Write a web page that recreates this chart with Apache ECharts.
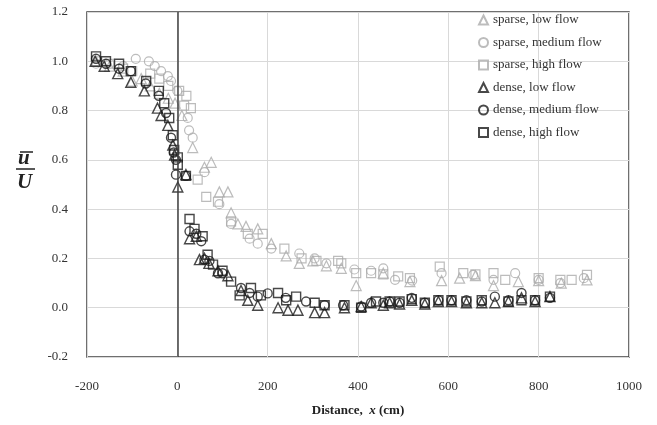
<!DOCTYPE html>
<html>
<head>
<meta charset="utf-8">
<script src="https://cdn.jsdelivr.net/npm/echarts@6/dist/echarts.min.js"></script>
<style>
html,body{margin:0;padding:0;background:#fff;}
#chart{width:657px;height:425px;}
</style>
</head>
<body>
<div id="chart"></div>
<script>
// ---- data (x in cm, u/U) ----
var seriesNames = ['sparse, low flow','sparse, medium flow','sparse, high flow','dense, low flow','dense, medium flow','dense, high flow'];
var xTicks = [-200, 0, 200, 400, 600, 800, 1000];
var yTicks = [-0.2, 0.0, 0.2, 0.4, 0.6, 0.8, 1.0, 1.2];

var sparseLow = [[-180,1.00],[-150,0.98],[-120,0.96],[-100,0.92],[-80,0.93],[-60,0.90],[-40,0.87],[-20,0.85],[-5,0.83],[10,0.78],[34,0.65],[60,0.57],[75,0.59],[93,0.47],[112,0.47],[119,0.385],[134,0.34],[152,0.33],[178,0.32],[208,0.26],[241,0.21],[270,0.18],[300,0.19],[330,0.17],[363,0.16],[396,0.09],[456,0.14],[515,0.106],[585,0.11],[625,0.12],[660,0.13],[700,0.09],[755,0.106],[800,0.11],[850,0.10],[907,0.113]];
var sparseMedium = [[-180,0.99],[-150,0.99],[-120,0.98],[-92,1.01],[-63,1.00],[-50,0.98],[-36,0.96],[-21,0.94],[-14,0.92],[0,0.88],[23,0.77],[26,0.72],[34,0.69],[60,0.55],[93,0.42],[119,0.34],[160,0.28],[178,0.26],[208,0.24],[270,0.22],[304,0.20],[330,0.18],[392,0.155],[429,0.15],[456,0.16],[482,0.113],[520,0.11],[585,0.14],[655,0.133],[700,0.113],[748,0.14],[800,0.113],[848,0.10],[900,0.12]];
var sparseHigh = [[-180,1.00],[-150,0.99],[-120,0.97],[-100,0.96],[-60,0.95],[-40,0.93],[-20,0.90],[4,0.88],[15,0.82],[20,0.86],[30,0.81],[45,0.52],[64,0.45],[90,0.43],[119,0.35],[156,0.30],[189,0.30],[237,0.24],[275,0.20],[308,0.19],[356,0.19],[363,0.18],[396,0.14],[429,0.14],[456,0.135],[489,0.127],[515,0.12],[581,0.167],[633,0.14],[660,0.135],[700,0.14],[726,0.113],[800,0.12],[848,0.113],[873,0.113],[907,0.133]];
var denseLow = [[-182,1.00],[-162,0.98],[-132,0.95],[-103,0.915],[-73,0.88],[-44,0.81],[-36,0.78],[-21,0.74],[-10,0.66],[-6,0.62],[1,0.49],[19,0.54],[27,0.28],[42,0.29],[49,0.195],[60,0.20],[70,0.18],[90,0.15],[112,0.13],[141,0.07],[156,0.03],[178,0.01],[223,0.0],[245,-0.01],[267,-0.01],[304,-0.02],[326,-0.02],[370,0.0],[407,0.005],[429,0.02],[456,0.01],[470,0.02],[492,0.015],[519,0.03],[548,0.015],[578,0.025],[607,0.025],[640,0.02],[674,0.02],[703,0.02],[733,0.025],[762,0.04],[792,0.025],[825,0.045]];
var denseMedium = [[-180,1.01],[-158,0.99],[-129,0.97],[-103,0.96],[-70,0.91],[-41,0.86],[-25,0.79],[-14,0.69],[-8,0.63],[-3,0.60],[-3,0.54],[19,0.535],[27,0.31],[42,0.30],[53,0.27],[60,0.195],[71,0.19],[90,0.14],[100,0.14],[141,0.08],[160,0.06],[178,0.045],[200,0.058],[240,0.04],[285,0.025],[326,0.01],[367,0.01],[407,0.005],[429,0.02],[456,0.02],[470,0.025],[492,0.02],[519,0.04],[548,0.02],[578,0.03],[607,0.03],[640,0.03],[674,0.025],[703,0.045],[733,0.03],[762,0.06],[792,0.03],[825,0.04]];
var denseHigh = [[-180,1.02],[-158,1.00],[-129,0.99],[-103,0.96],[-69,0.92],[-41,0.88],[-29,0.83],[-18,0.77],[-10,0.70],[-7,0.64],[1,0.61],[1,0.58],[19,0.535],[27,0.36],[38,0.32],[56,0.29],[67,0.215],[79,0.175],[100,0.15],[119,0.106],[138,0.05],[163,0.08],[185,0.05],[223,0.06],[241,0.03],[263,0.045],[304,0.02],[326,0.01],[370,0.01],[407,0.0],[440,0.025],[470,0.025],[492,0.025],[519,0.035],[548,0.02],[578,0.03],[607,0.03],[640,0.025],[674,0.03],[733,0.025],[762,0.03],[792,0.03],[825,0.045]];

var FONT = '"Liberation Serif", "Times New Roman", serif';
var GRAY = '#ababab';
var DARK = '#1a1a1a';

function mk(name, data, symbol, color, bw, size) {
  return {
    name: name, type: 'scatter', data: data, symbol: symbol, symbolSize: size,
    itemStyle: { color: 'rgba(255,255,255,0)', borderColor: color, borderWidth: bw },
    emphasis: { disabled: true }
  };
}

var series = [
  mk(seriesNames[0], sparseLow, 'triangle', GRAY, 1.2, 10),
  mk(seriesNames[1], sparseMedium, 'circle', GRAY, 1.2, 9),
  mk(seriesNames[2], sparseHigh, 'rect', GRAY, 1.2, 9),
  mk(seriesNames[3], denseLow, 'triangle', DARK, 1.4, 10),
  mk(seriesNames[4], denseMedium, 'circle', DARK, 1.4, 9),
  mk(seriesNames[5], denseHigh, 'rect', DARK, 1.4, 9)
];
series[0].markLine = {
  silent: true, symbol: 'none', label: { show: false },
  lineStyle: { color: '#404040', width: 1.5, type: 'solid' },
  data: [{ xAxis: 0 }]
};

var chart = echarts.init(document.getElementById('chart'), null, { renderer: 'canvas' });
chart.setOption({
  animation: false,
  backgroundColor: '#fff',
  grid: { left: 87, right: 28, top: 12, bottom: 68, show: true, borderColor: '#404040', borderWidth: 1.5, backgroundColor: 'transparent' },
  legend: {
    data: seriesNames,
    orient: 'vertical',
    left: 473, top: 8,
    itemWidth: 9, itemHeight: 9,
    itemGap: 8.5,
    textStyle: { fontFamily: FONT, fontSize: 13, color: '#333', lineHeight: 14 },
    selectedMode: false
  },
  xAxis: {
    type: 'value', min: -200, max: 1000, interval: 200,
    axisLine: { show: false }, axisTick: { show: false },
    splitLine: { show: true, lineStyle: { color: '#d9d9d9', width: 1 } },
    axisLabel: { fontFamily: FONT, fontSize: 13, color: '#333', margin: 23,
      formatter: function (v) { return String(v); } },
    name: '{b|Distance,  }{i|x}{b| (cm)}',
    nameLocation: 'middle', nameGap: 47,
    nameTextStyle: {
      rich: {
        b: { fontFamily: FONT, fontSize: 13, fontWeight: 'bold', color: '#222' },
        i: { fontFamily: FONT, fontSize: 13, fontWeight: 'bold', fontStyle: 'italic', color: '#222' }
      }
    }
  },
  yAxis: {
    type: 'value', min: -0.2, max: 1.2, interval: 0.2,
    axisLine: { show: false }, axisTick: { show: false },
    splitLine: { show: true, lineStyle: { color: '#d9d9d9', width: 1 } },
    axisLabel: { fontFamily: FONT, fontSize: 13, color: '#333', margin: 19,
      formatter: function (v) { return (Math.round(v * 10) / 10).toFixed(1); } }
  },
  graphic: [
    { type: 'text', left: 18, top: 148, style: { text: 'u', font: 'bold italic 21px ' + FONT, fill: '#222' } },
    { type: 'line', shape: { x1: 20, y1: 152, x2: 33, y2: 152 }, style: { stroke: '#222', lineWidth: 1.5 } },
    { type: 'line', shape: { x1: 16, y1: 169, x2: 35, y2: 169 }, style: { stroke: '#222', lineWidth: 1.5 } },
    { type: 'text', left: 17, top: 172, style: { text: 'U', font: 'bold italic 21px ' + FONT, fill: '#222' } }
  ],
  series: series
});
</script>
</body>
</html>
